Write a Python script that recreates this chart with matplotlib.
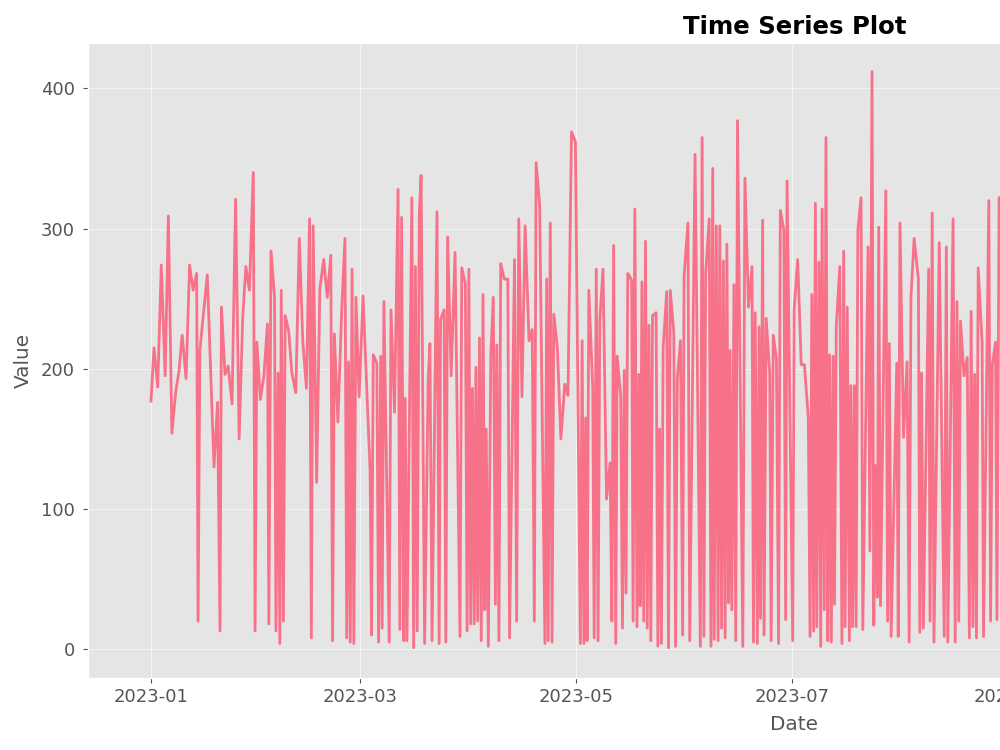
import numpy as np
import pandas as pd
import matplotlib
matplotlib.use('Agg')
import matplotlib.pyplot as plt
import matplotlib.dates as mdates

# Data: day offset from 2023-01-01 and value
day_offset = [
    0.0, 0.85, 1.9, 2.9, 4.0, 4.9, 5.9, 7.0, 7.9, 8.8, 9.9, 10.9, 11.9, 12.9, 13.3, 13.8,
    15.9, 17.8, 18.8, 19.5, 19.9, 20.9, 21.8, 22.9, 23.9, 24.9, 25.9, 26.8, 27.8, 28.9, 29.4,
    29.9, 30.9, 31.9, 32.9, 33.3, 33.9, 34.9, 35.3, 35.9, 36.4, 36.8, 37.4, 37.9, 38.9, 39.8,
    40.9, 41.9, 42.9, 43.9, 44.8, 45.3, 45.8, 46.8, 47.7, 48.8, 49.8, 50.8, 51.3, 51.8, 52.8,
    53.9, 54.8, 55.3, 55.8, 56.3, 56.8, 57.3, 57.9, 58.8, 59.9,
    61.9, 62.3, 62.8, 63.8, 64.3, 64.9, 65.3, 65.8, 67.3, 67.8, 68.8, 69.8, 70.3, 70.8, 71.4,
    71.8, 72.3, 73.7, 74.2, 74.7, 75.2, 75.8, 76.3, 77.3, 78.3, 78.8, 79.4, 80.8, 81.4, 81.8,
    82.8, 83.3, 83.8, 84.8, 85.9, 87.3, 87.8, 88.8, 89.3, 89.8, 90.3, 90.8, 91.3,
    91.8, 92.3, 92.8, 93.3, 93.8, 94.3, 94.7, 95.3, 96.0, 96.7, 97.3, 97.7, 98.3, 98.8, 99.8,
    100.8, 101.3, 102.7, 103.3, 103.9, 104.8, 105.7, 106.8, 107.7, 108.3, 108.8, 109.8, 111.3,
    111.8, 112.2, 112.8, 113.3, 113.8, 114.8, 115.8, 116.9, 117.8, 118.8, 119.9, 121.3, 121.8,
    122.3,
    122.8, 123.2, 123.7, 124.8, 125.2, 125.8, 126.3, 126.8, 127.7, 128.7, 129.7, 130.2, 130.7,
    131.3, 131.7, 132.7, 133.2, 133.7, 134.2, 134.7, 135.2, 135.8, 136.2, 136.7, 137.3, 137.8,
    138.2, 138.7, 139.2, 139.7, 140.2, 140.7, 141.2, 141.7, 142.7, 143.2, 143.7, 144.2, 144.7,
    145.7, 146.2, 146.7, 147.7, 148.2, 148.7, 149.6, 150.2, 150.6, 151.7, 152.2, 153.7,
    155.2, 155.7, 156.2, 156.7, 157.7, 158.2, 158.7, 159.1, 159.7, 160.2, 160.7, 161.2, 161.7,
    162.2, 162.7, 163.2, 163.6, 164.1, 164.7, 165.2, 165.7, 167.2, 167.8, 168.8, 169.8, 170.2,
    170.7, 171.3, 171.8, 172.2, 172.8, 173.2, 173.8, 174.8, 175.2, 175.8, 176.7, 177.3, 177.8,
    178.8, 179.3, 179.7, 181.3, 181.7, 182.7, 183.7, 184.6,
    185.7, 186.2, 186.7, 187.2, 187.7, 188.1, 188.7, 189.2, 189.6, 190.2, 190.7, 191.2, 191.7,
    192.2, 192.7, 193.1, 193.6, 194.6, 195.2, 195.7, 196.1, 196.7, 197.3, 197.7, 198.2, 198.7,
    199.2, 199.7, 200.6, 201.1, 202.6, 203.1, 203.7, 204.2, 204.6, 205.2, 205.6, 206.1, 207.6,
    208.1, 208.6, 209.1, 210.7, 211.1, 211.6, 212.6, 213.6, 214.2, 214.7, 215.6,
    216.8, 217.2, 217.7, 218.2, 219.7, 220.1, 220.7, 221.2, 222.7, 224.1, 224.7, 225.1, 226.6,
    227.2, 227.7, 228.2, 228.7, 229.7, 230.6, 231.2, 231.7, 232.2, 232.7, 233.2, 233.7, 234.8,
    235.2, 236.7, 237.2, 237.7, 238.6, 239.0, 239.6,
]
values = [
    177, 215, 187, 274, 195, 309, 154, 184, 198, 224, 193, 274, 256, 268, 20, 213,
    267, 130, 176, 13, 244, 196, 202, 175, 321, 150, 236, 273, 256, 340, 13,
    219, 178, 195, 232, 18, 284, 251, 13, 197, 4, 256, 20, 238, 227, 197,
    183, 293, 219, 186, 307, 8, 302, 119, 257, 278, 251, 281, 6, 225, 162,
    243, 293, 8, 205, 5, 271, 4, 251, 180, 252,
    127, 10, 210, 204, 5, 209, 15, 248, 5, 242, 169, 328, 14, 308, 6,
    179, 6, 322, 1, 273, 13, 311, 338, 4, 191, 218, 6, 312, 4, 235,
    242, 5, 294, 195, 283, 9, 272, 261, 13, 271, 18, 186, 18,
    201, 20, 222, 6, 253, 28, 157, 2, 209, 251, 32, 217, 6, 275, 264,
    264, 8, 278, 20, 307, 180, 302, 220, 228, 20, 347, 317, 4,
    264, 6, 304, 5, 239, 215, 150, 189, 181, 369, 362, 4, 220,
    4,
    165, 6, 256, 186, 8, 271, 6, 235, 271, 107, 133, 20, 288,
    4, 209, 181, 15, 199, 40, 268, 266, 263, 20, 314, 16, 196,
    31, 262, 20, 291, 15, 231, 6, 238, 240, 2, 157, 4, 215,
    255, 1, 256, 226, 2, 193, 220, 10, 266, 304, 6, 353,
    2, 365, 9, 268, 307, 2, 343, 7, 302, 6, 302, 15, 277,
    8, 289, 33, 213, 28, 260, 6, 377, 2, 336, 244, 273, 5,
    240, 4, 230, 22, 306, 10, 236, 197, 6, 224, 207, 4, 313,
    299, 21, 334, 6, 242, 278, 203, 203,
    165, 9, 253, 13, 318, 16, 276, 2, 314, 28, 365, 6, 210,
    5, 209, 32, 230, 273, 4, 284, 16, 244, 6, 188, 16, 188,
    16, 299, 322, 14, 287, 70, 412, 17, 131, 37, 301, 31, 327,
    20, 218, 9, 204, 9, 304, 151, 205, 5, 251, 293,
    264, 12, 197, 15, 271, 20, 311, 5, 290, 9, 287, 5, 307,
    5, 248, 20, 234, 195, 208, 8, 241, 16, 196, 8, 272, 219,
    9, 320, 20, 203, 219, 21, 322,
]

start = pd.Timestamp('2023-01-01')
dates = start + pd.to_timedelta(day_offset, unit='D')

plt.style.use('ggplot')
plt.rcParams['font.size'] = 12

fig = plt.figure(figsize=(10, 7.5), dpi=100)
# the axes run past the right edge of the figure, as in the reference
ax = fig.add_axes([0.088, 0.096, 1.413, 0.847])
ax.plot(dates, values, color='#f77189', lw=2)

ax.set_xlim(start - pd.Timedelta(days=17.8), start + pd.Timedelta(days=381.4))
ax.set_ylim(-20.6, 432.6)
ax.xaxis.set_major_locator(mdates.MonthLocator(bymonth=[1, 3, 5, 7, 9, 11]))
ax.xaxis.set_major_formatter(mdates.DateFormatter('%Y-%m'))
ax.tick_params(axis='both', labelsize=13)
ax.tick_params(axis='y', pad=6)
ax.grid(True, color='white', lw=0.8, alpha=0.6)

ax.set_title('Time Series Plot', fontsize=17.6, fontweight='bold', color='black')
ax.set_xlabel('Date', fontsize=14.4, labelpad=7)
ax.set_ylabel('Value', fontsize=14.4, labelpad=6)

fig.savefig('out.png', dpi=100)
